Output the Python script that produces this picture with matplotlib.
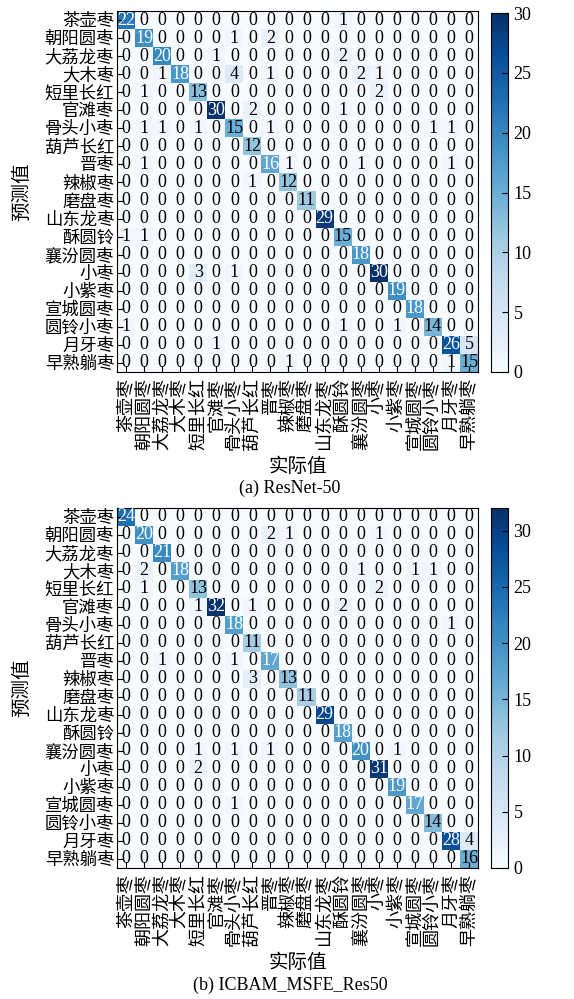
import numpy as np
import matplotlib
matplotlib.use('Agg')
import matplotlib.pyplot as plt

FAMS = ['Liberation Serif', 'Noto Sans CJK SC']
plt.rcParams['font.family'] = FAMS

classes = ['茶壶枣', '朝阳圆枣', '大荔龙枣', '大木枣', '短里长红', '官滩枣', '骨头小枣',
           '葫芦长红', '晋枣', '辣椒枣', '磨盘枣', '山东龙枣', '酥圆铃', '襄汾圆枣',
           '小枣', '小紫枣', '宣城圆枣', '圆铃小枣', '月牙枣', '早熟躺枣']

cm_resnet50 = [
    [22, 0, 0, 0, 0, 0, 0, 0, 0, 0, 0, 0, 1, 0, 0, 0, 0, 0, 0, 0],
    [0, 19, 0, 0, 0, 0, 1, 0, 2, 0, 0, 0, 0, 0, 0, 0, 0, 0, 0, 0],
    [0, 0, 20, 0, 0, 1, 0, 0, 0, 0, 0, 0, 2, 0, 0, 0, 0, 0, 0, 0],
    [0, 0, 1, 18, 0, 0, 4, 0, 1, 0, 0, 0, 0, 2, 1, 0, 0, 0, 0, 0],
    [0, 1, 0, 0, 13, 0, 0, 0, 0, 0, 0, 0, 0, 0, 2, 0, 0, 0, 0, 0],
    [0, 0, 0, 0, 0, 30, 0, 2, 0, 0, 0, 0, 1, 0, 0, 0, 0, 0, 0, 0],
    [0, 1, 1, 0, 1, 0, 15, 0, 1, 0, 0, 0, 0, 0, 0, 0, 0, 1, 1, 0],
    [0, 0, 0, 0, 0, 0, 0, 12, 0, 0, 0, 0, 0, 0, 0, 0, 0, 0, 0, 0],
    [0, 1, 0, 0, 0, 0, 0, 0, 16, 1, 0, 0, 0, 1, 0, 0, 0, 0, 1, 0],
    [0, 0, 0, 0, 0, 0, 0, 1, 0, 12, 0, 0, 0, 0, 0, 0, 0, 0, 0, 0],
    [0, 0, 0, 0, 0, 0, 0, 0, 0, 0, 11, 0, 0, 0, 0, 0, 0, 0, 0, 0],
    [0, 0, 0, 0, 0, 0, 0, 0, 0, 0, 0, 29, 0, 0, 0, 0, 0, 0, 0, 0],
    [1, 1, 0, 0, 0, 0, 0, 0, 0, 0, 0, 0, 15, 0, 0, 0, 0, 0, 0, 0],
    [0, 0, 0, 0, 0, 0, 0, 0, 0, 0, 0, 0, 0, 18, 0, 0, 0, 0, 0, 0],
    [0, 0, 0, 0, 3, 0, 1, 0, 0, 0, 0, 0, 0, 0, 30, 0, 0, 0, 0, 0],
    [0, 0, 0, 0, 0, 0, 0, 0, 0, 0, 0, 0, 0, 0, 0, 19, 0, 0, 0, 0],
    [0, 0, 0, 0, 0, 0, 0, 0, 0, 0, 0, 0, 0, 0, 0, 0, 18, 0, 0, 0],
    [1, 0, 0, 0, 0, 0, 0, 0, 0, 0, 0, 0, 1, 0, 0, 1, 0, 14, 0, 0],
    [0, 0, 0, 0, 0, 1, 0, 0, 0, 0, 0, 0, 0, 0, 0, 0, 0, 0, 26, 5],
    [0, 0, 0, 0, 0, 0, 0, 0, 0, 1, 0, 0, 0, 0, 0, 0, 0, 0, 1, 15],
]

cm_icbam = [
    [24, 0, 0, 0, 0, 0, 0, 0, 0, 0, 0, 0, 0, 0, 0, 0, 0, 0, 0, 0],
    [0, 20, 0, 0, 0, 0, 0, 0, 2, 1, 0, 0, 0, 0, 1, 0, 0, 0, 0, 0],
    [0, 0, 21, 0, 0, 0, 0, 0, 0, 0, 0, 0, 0, 0, 0, 0, 0, 0, 0, 0],
    [0, 2, 0, 18, 0, 0, 0, 0, 0, 0, 0, 0, 0, 1, 0, 0, 1, 1, 0, 0],
    [0, 1, 0, 0, 13, 0, 0, 0, 0, 0, 0, 0, 0, 0, 2, 0, 0, 0, 0, 0],
    [0, 0, 0, 0, 1, 32, 0, 1, 0, 0, 0, 0, 2, 0, 0, 0, 0, 0, 0, 0],
    [0, 0, 0, 0, 0, 0, 18, 0, 0, 0, 0, 0, 0, 0, 0, 0, 0, 0, 1, 0],
    [0, 0, 0, 0, 0, 0, 0, 11, 0, 0, 0, 0, 0, 0, 0, 0, 0, 0, 0, 0],
    [0, 0, 1, 0, 0, 0, 1, 0, 17, 0, 0, 0, 0, 0, 0, 0, 0, 0, 0, 0],
    [0, 0, 0, 0, 0, 0, 0, 3, 0, 13, 0, 0, 0, 0, 0, 0, 0, 0, 0, 0],
    [0, 0, 0, 0, 0, 0, 0, 0, 0, 0, 11, 0, 0, 0, 0, 0, 0, 0, 0, 0],
    [0, 0, 0, 0, 0, 0, 0, 0, 0, 0, 0, 29, 0, 0, 0, 0, 0, 0, 0, 0],
    [0, 0, 0, 0, 0, 0, 0, 0, 0, 0, 0, 0, 18, 0, 0, 0, 0, 0, 0, 0],
    [0, 0, 0, 0, 1, 0, 1, 0, 1, 0, 0, 0, 0, 20, 0, 1, 0, 0, 0, 0],
    [0, 0, 0, 0, 2, 0, 0, 0, 0, 0, 0, 0, 0, 0, 31, 0, 0, 0, 0, 0],
    [0, 0, 0, 0, 0, 0, 0, 0, 0, 0, 0, 0, 0, 0, 0, 19, 0, 0, 0, 0],
    [0, 0, 0, 0, 0, 0, 1, 0, 0, 0, 0, 0, 0, 0, 0, 0, 17, 0, 0, 0],
    [0, 0, 0, 0, 0, 0, 0, 0, 0, 0, 0, 0, 0, 0, 0, 0, 0, 14, 0, 0],
    [0, 0, 0, 0, 0, 0, 0, 0, 0, 0, 0, 0, 0, 0, 0, 0, 0, 0, 28, 4],
    [0, 0, 0, 0, 0, 0, 0, 0, 0, 0, 0, 0, 0, 0, 0, 0, 0, 0, 0, 16],
]

cbar_ticks = [0, 5, 10, 15, 20, 25, 30]
xlabel = '实际值'
ylabel = '预测值'
captions = ['(a) ResNet-50', '(b) ICBAM_MSFE_Res50']

W, H = 574, 999
fig = plt.figure(figsize=(W / 100, H / 100), dpi=100)


def fx(px):
    return px / W


def fy(py):
    return 1 - py / H


def draw(cm, top, bottom, cb_top, caption, cap_y):
    cm = np.array(cm)
    vmax = cm.max()
    ax = fig.add_axes([fx(117), fy(bottom), fx(478) - fx(117), fy(top) - fy(bottom)])
    im = ax.imshow(cm, cmap='Blues', vmin=0, vmax=vmax, aspect='auto',
                   interpolation='nearest')
    thresh = vmax / 2.0
    n = cm.shape[0]
    for i in range(n):
        for j in range(n):
            v = cm[i, j]
            ax.text(j, i, str(v), ha='center', va='center', fontsize=13,
                    family=FAMS, color='white' if v > thresh else 'black')
    ax.set_xticks(range(n))
    ax.set_yticks(range(n))
    ax.set_xticklabels(classes, rotation=90, fontsize=13, family=FAMS)
    ax.set_yticklabels(classes, fontsize=12.5, family=FAMS)
    ax.tick_params(direction='in', length=4, width=0.8, top=False, right=False, pad=2)
    ax.tick_params(axis='x', pad=4)
    ax.set_xlabel(xlabel, fontsize=14, family=FAMS, labelpad=6)
    ax.set_ylabel(ylabel, fontsize=14, family=FAMS, labelpad=10)
    for s in ax.spines.values():
        s.set_linewidth(0.8)
    cax = fig.add_axes([fx(491), fy(bottom), fx(508) - fx(491), fy(cb_top) - fy(bottom)])
    cb = fig.colorbar(im, cax=cax, ticks=cbar_ticks)
    cb.ax.tick_params(direction='in', length=4, width=0.8, labelsize=13, pad=4)
    for lbl in cb.ax.get_yticklabels():
        lbl.set_family(FAMS)
    cb.outline.set_linewidth(0.8)
    fig.text(fx(290), fy(cap_y), caption, ha='center', va='center', fontsize=13,
             family=FAMS)


draw(cm_resnet50, 11, 372, 13, captions[0], 488)
draw(cm_icbam, 508, 868, 508, captions[1], 985)

fig.savefig('out.png', dpi=100)
